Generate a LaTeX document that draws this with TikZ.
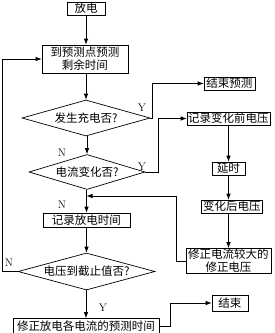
\documentclass[tikz,border=0pt]{standalone}
\usepackage{fontspec}
\newfontfamily\cjk{Noto Sans CJK SC}
\usetikzlibrary{shapes.geometric,arrows.meta}
\tikzset{
  box/.style={draw, line width=0.7pt, inner sep=0pt, font=\cjk\fontsize{11.5}{13}\selectfont,
    minimum height=13pt, align=center},
  decision/.style={draw, diamond, line width=0.7pt, inner sep=0pt, aspect=3.5,
    font=\cjk\fontsize{11.5}{13}\selectfont},
  flow/.style={line width=0.7pt, -{Latex[length=6pt,width=4.5pt]}},
  yn/.style={font=\fontsize{11}{13}\selectfont}
}
\begin{document}
\begin{tikzpicture}[x=1pt,y=-1pt]
  \useasboundingbox (0,0) rectangle (274,333);
  % Main column
  \node[box, minimum width=38pt] (fd) at (86,8.5) {放电};
  \node[box, minimum width=86pt, minimum height=28pt] (yc) at (85,59) {到预测点预测\\剩余时间};
  \node[decision, minimum width=128pt, minimum height=36pt] (d1) at (86,118) {发生充电否?};
  \node[decision, minimum width=116pt, minimum height=35pt] (d2) at (87,172) {电流变化否?};
  \node[box, minimum width=87pt, minimum height=14pt] (jlf) at (86.5,220) {记录放电时间};
  \node[box, minimum width=146pt, minimum height=15pt] (xzf) at (86,326) {修正放电各电流的预测时间};
  \node[decision, minimum width=137pt, minimum height=37pt] (d3) at (86.5,271.5) {电压到截止值否?};
  % Right column
  \node[box, minimum width=51pt] (jsyc) at (229.5,83.5) {结束预测};
  \node[box, minimum width=83pt] (jlq) at (228.5,118.5) {记录变化前电压};
  \node[box, minimum width=33pt] (ys) at (228.5,168.5) {延时};
  \node[box, minimum width=61pt] (bh) at (232,206.5) {变化后电压};
  \node[box, minimum width=85pt, minimum height=25pt] (xz) at (228.5,261) {修正电流较大的\\修正电压};
  \node[box, minimum width=36pt, minimum height=16pt] (js) at (230,303) {结束};
  \coordinate (hb) at (86.5,196);
  % Connectors
  \draw[flow] (fd) -- (fd.south |- yc.north);
  \draw[flow] (yc.south -| d1.north) -- (d1.north);
  \draw[flow] (d1.east) -- ++(2,0) |- (jsyc.west);
  \draw[flow] (d1.south -| d2.north) -- (d2.north);
  \draw[flow] (d2.east) -- ++(13,0) |- (jlq.west);
  \draw[flow] (jlq) -- (ys);
  \draw[flow] (ys.south) -- (ys.south |- bh.north);
  \draw[flow] (ys.south |- bh.south) -- (ys.south |- xz.north);
  \draw[flow] (xz.west) -- ++(-9,0) |- (hb);
  \draw[flow] (d2.south -| jlf.north) -- (jlf.north);
  \draw[flow] (jlf) -- (d3);
  \draw[flow] (d3.west) -- (2,271.5) |- (yc.west);
  \draw[flow] (d3.south -| xzf.north) -- (xzf.north);
  \draw[flow] (xzf.east) -- ++(11,0) |- (js.west);
  % Labels
  \node[yn] at (142,108) {Y};
  \node[yn] at (62,153) {N};
  \node[yn] at (142,167) {Y};
  \node[yn] at (62,205) {N};
  \node[yn] at (9,263) {N};
  \node[yn] at (103,308) {Y};
\end{tikzpicture}
\end{document}
